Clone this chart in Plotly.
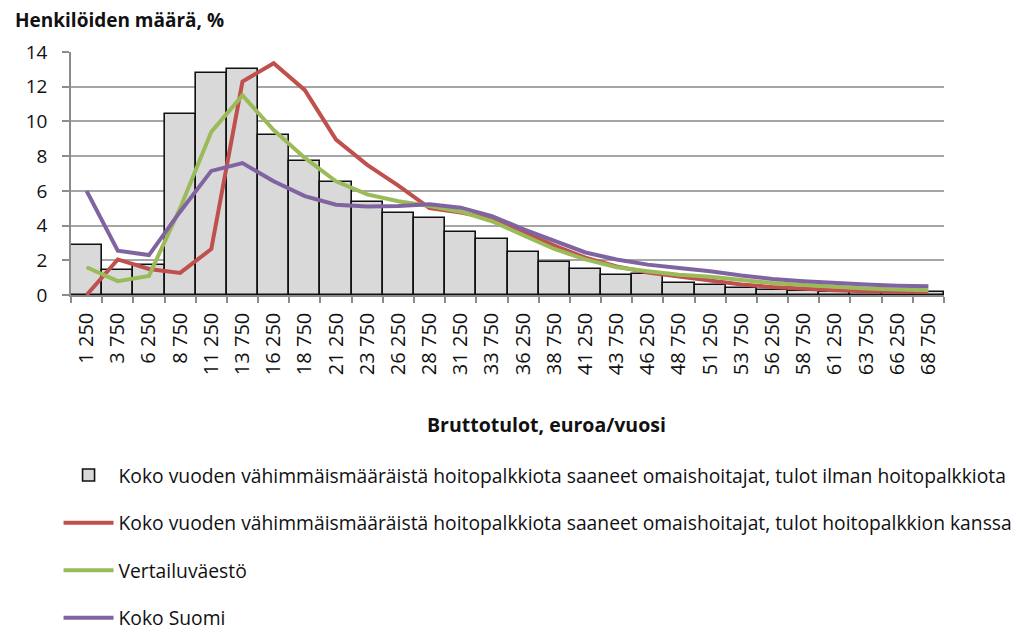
import plotly.graph_objects as go

categories = ["1 250", "3 750", "6 250", "8 750", "11 250", "13 750", "16 250", "18 750",
              "21 250", "23 750", "26 250", "28 750", "31 250", "33 750", "36 250", "38 750",
              "41 250", "43 750", "46 250", "48 750", "51 250", "53 750", "56 250", "58 750",
              "61 250", "63 750", "66 250", "68 750"]

bars_ilman = [2.9, 1.45, 1.7, 10.4, 12.8, 13.0, 9.2, 7.7, 6.5, 5.38, 4.7, 4.45, 3.65, 3.23,
              2.5, 1.9, 1.5, 1.15, 1.23, 0.71, 0.57, 0.38, 0.31, 0.25, 0.17, 0.15, 0.15, 0.17]
red_kanssa = [0.0, 2.05, 1.5, 1.27, 2.65, 12.3, 13.35, 11.8, 8.95, 7.5, 6.3, 5.0, 4.75, 4.4,
              3.65, 2.85, 2.15, 1.65, 1.3, 1.05, 0.85, 0.6, 0.46, 0.35, 0.27, 0.21, 0.19, 0.17]
green_vertailu = [1.6, 0.8, 1.1, 5.0, 9.4, 11.5, 9.5, 7.9, 6.55, 5.8, 5.4, 5.13, 4.8, 4.25,
                  3.45, 2.65, 2.05, 1.6, 1.37, 1.17, 1.05, 0.85, 0.69, 0.58, 0.46, 0.38, 0.31, 0.27]
purple_suomi = [6.0, 2.55, 2.3, 4.8, 7.15, 7.6, 6.55, 5.7, 5.2, 5.1, 5.13, 5.23, 5.03, 4.55,
                3.8, 3.1, 2.45, 2.05, 1.75, 1.55, 1.37, 1.12, 0.92, 0.79, 0.67, 0.6, 0.54, 0.5]

names = [
    "Koko vuoden vähimmäismääräistä hoitopalkkiota saaneet omaishoitajat, tulot ilman hoitopalkkiota",
    "Koko vuoden vähimmäismääräistä hoitopalkkiota saaneet omaishoitajat, tulot hoitopalkkion kanssa",
    "Vertailuväestö",
    "Koko Suomi",
]

FONT = "Open Sans"
W, H = 1011, 627  # page body has an 8px margin

fig = go.Figure()
fig.add_trace(go.Bar(x=categories, y=bars_ilman, name=names[0], legendgroup="a",
                     marker=dict(color="#d9d9d9", line=dict(color="#111111", width=1.6))))
fig.add_trace(go.Scatter(x=categories, y=red_kanssa, name=names[1], mode="lines", legendgroup="b",
                         line=dict(color="#c0504d", width=4)))
fig.add_trace(go.Scatter(x=categories, y=green_vertailu, name=names[2], mode="lines", legendgroup="c",
                         line=dict(color="#9bbb59", width=4)))
fig.add_trace(go.Scatter(x=categories, y=purple_suomi, name=names[3], mode="lines", legendgroup="d",
                         line=dict(color="#8064a2", width=4)))

fig.update_layout(
    width=W, height=H,
    margin=dict(l=63, r=75, t=44, b=340, autoexpand=False),
    paper_bgcolor="white", plot_bgcolor="white",
    bargap=0,
    font=dict(family=FONT, color="#111111"),
    showlegend=True,
    legend=dict(xref="container", yref="container", x=0.050, xanchor="left",
                y=1 - 448 / H, yanchor="top",
                font=dict(size=19.3, family=FONT), traceorder="grouped",
                tracegroupgap=19.5, itemwidth=50, bgcolor="rgba(0,0,0,0)"),
    xaxis=dict(type="category", tickangle=-90, tickfont=dict(size=20, family=FONT),
               showgrid=False, showline=True, linecolor="#8c8c8c", linewidth=1.5,
               ticks="outside", ticklen=6, tickcolor="#8c8c8c", tickwidth=1.5,
               tickson="boundaries", range=[-0.5, 27.5], automargin=False,
               ticklabelstandoff=8),
    yaxis=dict(range=[0, 14], dtick=2, tickfont=dict(size=19, family=FONT),
               showgrid=True, gridcolor="#a6a6a6", gridwidth=1.5,
               showline=True, linecolor="#8c8c8c", linewidth=1.5,
               ticks="outside", ticklen=7, tickcolor="#8c8c8c", tickwidth=1.5,
               zeroline=False, automargin=False, ticklabelstandoff=11),
    annotations=[
        dict(text="<b>Henkilöiden määrä, %</b>", xref="paper", yref="paper",
             x=-0.066, y=1.132, xanchor="left", yanchor="middle", showarrow=False,
             font=dict(size=19, family=FONT)),
        dict(text="<b>Bruttotulot, euroa/vuosi</b>", xref="paper", yref="paper",
             x=0.545, y=-0.533, xanchor="center", yanchor="middle", showarrow=False,
             font=dict(size=19.5, family=FONT)),
    ],
)

fig.write_html("out.html")
